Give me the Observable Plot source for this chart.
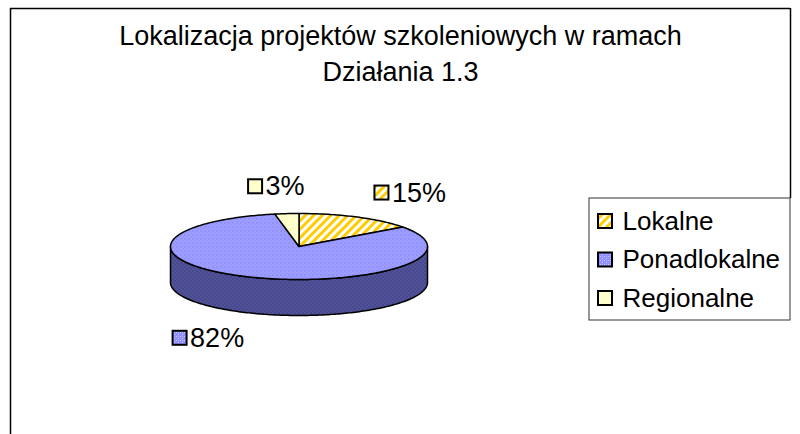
<!DOCTYPE html>
<html><head><meta charset="utf-8">
<script src="https://cdn.jsdelivr.net/npm/d3@7"></script>
<script src="https://cdn.jsdelivr.net/npm/@observablehq/plot@0.6"></script>
<style>
body{margin:0;background:#fff;}
#chart svg{display:block;}
</style>
</head><body>
<svg width="0" height="0" style="position:absolute">
<defs>
<pattern id="hatch" patternUnits="userSpaceOnUse" width="6" height="6" patternTransform="rotate(45)">
<rect width="6" height="6" fill="#ffffff"/><rect width="3" height="6" fill="#ffcc00"/>
</pattern>
<pattern id="hatchSide" patternUnits="userSpaceOnUse" width="6" height="6" patternTransform="rotate(45)">
<rect width="6" height="6" fill="#999999"/><rect width="3" height="6" fill="#997a00"/>
</pattern>
<pattern id="dotsTop" patternUnits="userSpaceOnUse" width="4" height="4">
<rect width="4" height="4" fill="#9090ff"/><rect x="0" y="0" width="1" height="1" fill="#c8c8ff"/><rect x="2" y="2" width="1" height="1" fill="#c8c8ff"/><rect x="2" y="0" width="1" height="1" fill="#b0b0ff"/>
</pattern>
<pattern id="dotsSide" patternUnits="userSpaceOnUse" width="4" height="4">
<rect width="4" height="4" fill="#48488f"/><rect x="0" y="0" width="1" height="1" fill="#7070b8"/><rect x="2" y="2" width="1" height="1" fill="#7070b8"/>
</pattern>
</defs>
</svg>
<div id="chart"></div>
<script>
// ---- data ----
const categories = ["Lokalne", "Ponadlokalne", "Regionalne"];
const shares = [15, 82, 3];
const shareLabels = ["15%", "82%", "3%"];
const titleLines = ["Lokalizacja projektów szkoleniowych w ramach", "Działania 1.3"];

// ---- styles / layout ----
const topFill = {Lokalne: "url(#hatch)", Ponadlokalne: "url(#dotsTop)", Regionalne: "#ffffcc"};
const sideFill = {Lokalne: "url(#hatchSide)", Ponadlokalne: "url(#dotsSide)", Regionalne: "#99997a"};
const W = 800, H = 434;
const FONT = "Liberation Sans, Arial, sans-serif";
const PIE = {cx: 298.5, cy: 246, rx: 128.5, ry: 33, depth: 36};
const LABEL = {rx: 210, ry: 60, size: 27, box: 14, gap: 3};
const LEG = {x1: 589, y1: 198, x2: 790, y2: 320, sw: 598, box: 14, row0: 221, step: 38.5, size: 26, tx: 622};
const FRAME = {left: 10, top: 8, right: 790};

const total = d3.sum(shares);
let acc = 0;
const slices = categories.map((c, i) => {
  const a0 = acc / total * 2 * Math.PI; acc += shares[i];
  const a1 = acc / total * 2 * Math.PI;
  return {c, i, a0, a1, label: shareLabels[i]};
});
const pt = (t, dz = 0) => ({x: PIE.cx + PIE.rx * Math.sin(t), y: PIE.cy - PIE.ry * Math.cos(t) + dz});
function arc(a, b, dz = 0) {
  const n = Math.max(2, Math.ceil(Math.abs(b - a) / (Math.PI / 180)));
  return d3.range(n + 1).map(k => pt(a + (b - a) * k / n, dz));
}
const center = {x: PIE.cx, y: PIE.cy};
const topPolys = slices.map(s => ({s, pts: [center, ...arc(s.a0, s.a1), center]}));
const sidePolys = slices.map(s => {
  const lo = Math.max(s.a0, Math.PI / 2), hi = Math.min(s.a1, 3 * Math.PI / 2);
  if (lo >= hi) return null;
  const top = arc(lo, hi), bot = arc(hi, lo, PIE.depth);
  return {s, pts: [...top, ...bot, top[0]]};
}).filter(Boolean);

const ctx = document.createElement("canvas").getContext("2d");
ctx.font = `${LABEL.size}px "Liberation Sans"`;
const labels = slices.map(s => {
  const m = (s.a0 + s.a1) / 2, sn = Math.sin(m), cs = Math.cos(m);
  const tw = ctx.measureText(s.label).width;
  const gw = LABEL.box + LABEL.gap + tw;
  const lx = PIE.cx + (LABEL.rx + gw / 2) * sn;
  const ly = PIE.cy - LABEL.ry * cs + (cs < 0 ? PIE.depth : 0);
  const x1 = lx - gw / 2;
  return {...s, x1, x2: x1 + LABEL.box, y1: ly - LABEL.box / 2, y2: ly + LABEL.box / 2, tx: x1 + LABEL.box + LABEL.gap, ty: ly};
});
const legendRows = categories.map((c, i) => ({c, y: LEG.row0 + i * LEG.step}));

const chart = Plot.plot({
  width: W, height: H, margin: 0,
  style: {fontFamily: FONT, background: "white"},
  x: {domain: [0, W], range: [0, W], axis: null},
  y: {domain: [0, H], range: [0, H], axis: null},
  color: {type: "identity"},
  marks: [
    Plot.ruleX([FRAME.left], {y1: FRAME.top, y2: H, stroke: "black", strokeWidth: 1.5}),
    Plot.ruleY([FRAME.top], {x1: FRAME.left, x2: FRAME.right, stroke: "black", strokeWidth: 1.5}),
    Plot.ruleX([FRAME.right], {y1: FRAME.top, y2: LEG.y1, stroke: "black", strokeWidth: 1.5}),
    ...sidePolys.map(p => Plot.line(p.pts, {x: "x", y: "y", fill: sideFill[p.s.c], stroke: "black", strokeWidth: 1.5, curve: "linear"})),
    ...topPolys.map(p => Plot.line(p.pts, {x: "x", y: "y", fill: topFill[p.s.c], stroke: "black", strokeWidth: 1.5, curve: "linear"})),
    Plot.rect(labels, {x1: "x1", x2: "x2", y1: "y1", y2: "y2", fill: d => topFill[d.c], stroke: "black", strokeWidth: 2}),
    Plot.text(labels, {x: "tx", y: "ty", text: "label", textAnchor: "start", lineAnchor: "middle", fontSize: LABEL.size, fontFamily: FONT, fill: "black"}),
    Plot.rect([LEG], {x1: "x1", x2: "x2", y1: "y1", y2: "y2", fill: "white", stroke: "#333", strokeWidth: 1}),
    Plot.rect(legendRows, {x1: LEG.sw, x2: LEG.sw + LEG.box, y1: d => d.y - LEG.box / 2, y2: d => d.y + LEG.box / 2, fill: d => topFill[d.c], stroke: "black", strokeWidth: 2}),
    Plot.text(legendRows, {x: LEG.tx, y: "y", text: "c", textAnchor: "start", lineAnchor: "middle", fontSize: LEG.size, fontFamily: FONT, fill: "black"}),
    Plot.text([titleLines.join("\n")], {text: d => d, frameAnchor: "top", dy: 18, lineAnchor: "top", lineHeight: 1.36, fontSize: 27, fontFamily: FONT, fill: "black"})
  ]
});
document.getElementById("chart").appendChild(chart);
</script>
</body></html>
